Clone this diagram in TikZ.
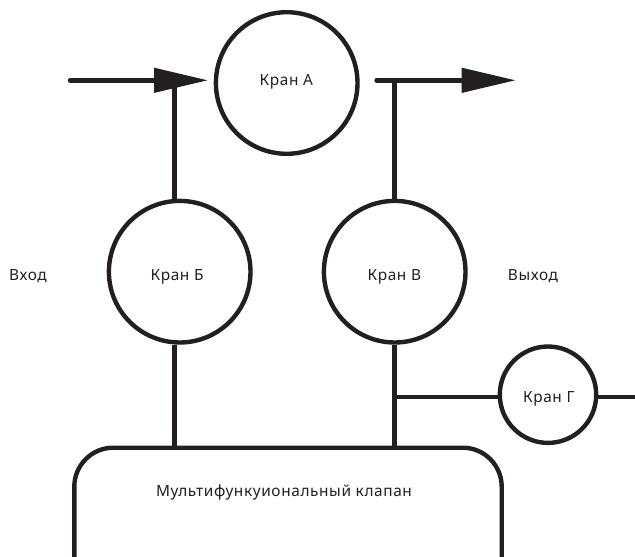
\documentclass[tikz,border=0pt]{standalone}
\usepackage{fontspec}
\setmainfont[LetterSpace=4]{Noto Sans}
\usepackage{xcolor}
\usetikzlibrary{arrows.meta}
\definecolor{ink}{HTML}{231F20}
\tikzset{
	kran/.style={circle,draw=ink,line width=4.4pt,inner sep=0pt,minimum size=#1},
	lbl/.style={font=\fontsize{15.4}{18}\selectfont,text=ink,inner sep=0pt,text height=11pt,text depth=0pt},
	pipe/.style={draw=ink,line width=4.4pt},
	flow/.style={pipe,line cap=round,-{Triangle[length=54pt,width=24pt]}}
}

\begin{document}
\begin{tikzpicture}[x=1pt,y=-1pt]
	\useasboundingbox (0,0) rectangle (635,557);
	% valves
	\node [kran=141.6pt] (kranA) at (286.7,83) {};
	\node [kran=141.6pt] (kranB) at (179.7,271.7) {};
	\node [kran=141.6pt] (kranC) at (394.7,271.7) {};
	\node [kran=96.4pt] (kranD) at (548,394.7) {};
	% texts
	\node [lbl] (textA) at (286.3,80) {Кран А};
	\node [lbl] (textB) at (177,275) {Кран Б};
	\node [lbl] (textC) at (394.3,275) {Кран В};
	\node [lbl] (textD) at (548.7,396.5) {Кран Г};
	\node [lbl] (textIn) at (28,275) {Вход};
	\node [lbl] (textOut) at (533,275) {Выход};
	\node [lbl] (textBox) at (284,491) {Мультифункуиональный клапан};
	% free ends
	\coordinate (inStart) at (70,80.3);
	\coordinate (inTip) at (208,80.3);
	\coordinate (outStart) at (376.5,80.3);
	\coordinate (outTip) at (515.7,80.3);
	\coordinate (jB) at (174.5,80.3);
	\coordinate (jC) at (394.3,80.3);
	\coordinate (boxLeft) at (74.3,557);
	\coordinate (boxRight) at (501.7,557);
	\coordinate (boxTop) at (0,447.7);
	\coordinate (jD) at (394.3,396.8);
	\coordinate (endD) at (635,396.8);
	% pipes
	\draw [pipe] (jB) -- (jB |- kranB.north);
	\draw [pipe] (jC) -- (jC |- kranC.north);
	\draw [pipe] (jB |- kranB.south) -- (jB |- boxTop);
	\draw [pipe] (jC |- kranC.south) -- (jC |- boxTop);
	\draw [pipe] (jD) -- (kranD.west |- jD);
	\draw [pipe] (kranD.east |- jD) -- (endD);
	\draw [pipe,rounded corners=39pt] (boxLeft) |- (boxTop -| boxRight) -- (boxRight);
	\draw [flow] (inStart) -- (inTip);
	\draw [flow] (outStart) -- (outTip);
\end{tikzpicture}
\end{document}
